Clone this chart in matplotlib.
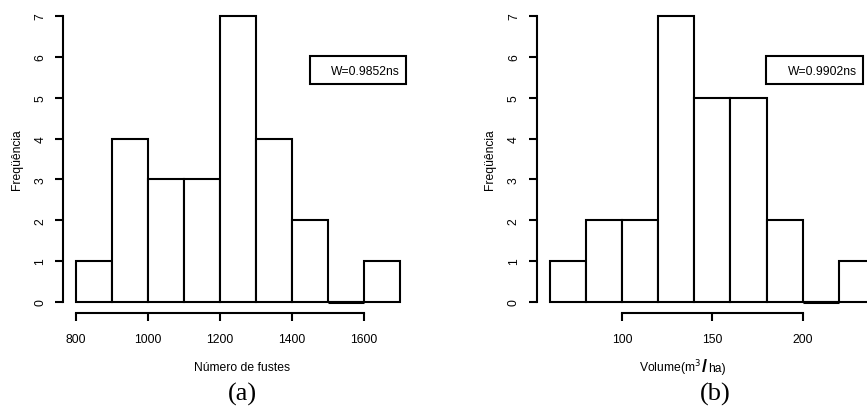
import numpy as np
import matplotlib.pyplot as plt
from matplotlib.patches import Rectangle

# histogram data
fustes_edges = [800, 900, 1000, 1100, 1200, 1300, 1400, 1500, 1600, 1700]
fustes_counts = [1, 4, 3, 3, 7, 4, 2, 0, 1]
fustes_ticks = [800, 1000, 1200, 1400, 1600]

volume_edges = [60, 80, 100, 120, 140, 160, 180, 200, 220, 240]
volume_counts = [1, 2, 2, 7, 5, 5, 2, 0, 1]
volume_ticks = [100, 150, 200]

y_ticks = [0, 1, 2, 3, 4, 5, 6, 7]
w_labels = ["W=0.9852ns", "W=0.9902ns"]
panel_labels = ["(a)", "(b)"]

W, H = 867, 414
FS = 8.7
plt.rcParams['font.family'] = ['Liberation Sans', 'DejaVu Sans']
fig = plt.figure(figsize=(W / 100, H / 100), dpi=100)


def fx(x):
    return x / W


def fy(y):
    return 1 - y / H


def r_hist(ax, edges, counts, ticks):
    edges = np.asarray(edges, dtype=float)
    counts = np.asarray(counts)
    widths = np.diff(edges)
    ax.bar(edges[:-1], counts, width=widths, align='edge',
           facecolor='white', edgecolor='black', linewidth=1.5)
    # empty bins: R still draws the flat outline
    empty = counts == 0
    ax.hlines(np.zeros(empty.sum()), edges[:-1][empty], edges[1:][empty],
              color='black', linewidth=2.2)
    span = edges[-1] - edges[0]
    ax.set_xlim(edges[0] - 0.04 * span, edges[-1] + 0.04 * span)
    ax.set_ylim(-0.04 * 7, 7 + 0.04 * 7)
    for s in ['top', 'right']:
        ax.spines[s].set_visible(False)
    for s in ['left', 'bottom']:
        ax.spines[s].set_linewidth(1.5)
    ax.spines['left'].set_bounds(0, 7)
    ax.spines['bottom'].set_bounds(ticks[0], ticks[-1])
    ax.set_xticks(ticks)
    ax.set_yticks(y_ticks)
    ax.set_yticklabels([str(v) for v in y_ticks], rotation=90, va='center')
    ax.tick_params(axis='both', length=6, width=1.5, labelsize=FS)
    ax.tick_params(axis='x', pad=8)
    ax.tick_params(axis='y', pad=6)
    ax.patch.set_visible(False)


# left panel
ax1 = fig.add_axes([fx(63), fy(314.4), 350 / W, 308.8 / H])
r_hist(ax1, fustes_edges, fustes_counts, fustes_ticks)

# right panel (runs past the right edge, as in the reference)
ax2 = fig.add_axes([fx(536.6), fy(314.4), 351.4 / W, 308.8 / H])
r_hist(ax2, volume_edges, volume_counts, volume_ticks)

# y labels
fig.text(fx(17), fy(160), "Freqüência", rotation=90, ha='center', va='center', fontsize=FS)
fig.text(fx(490), fy(160), "Freqüência", rotation=90, ha='center', va='center', fontsize=FS)

# x labels
fig.text(fx(242), fy(368), "Número de fustes", ha='center', va='center', fontsize=FS)
t1 = fig.text(fx(701), fy(368), "Volume(m$^3$", ha='right', va='center', fontsize=FS)
t2 = fig.text(fx(702), fy(368), "/", ha='left', va='center', fontsize=13, fontweight='bold')
fig.canvas.draw()
bb = t2.get_window_extent()
fig.text(fx(bb.x1 + 1), fy(369), "ha)", ha='left', va='center', fontsize=FS)

# panel labels
fig.text(fx(242), fy(394), panel_labels[0], ha='center', va='center', fontsize=19,
         family=['Liberation Serif', 'DejaVu Serif'])
fig.text(fx(715), fy(394), panel_labels[1], ha='center', va='center', fontsize=19,
         family=['Liberation Serif', 'DejaVu Serif'])

# Shapiro-Wilk boxes
for (x0, x1), lab in zip([(310, 406), (766, 863)], w_labels):
    fig.patches.append(Rectangle((fx(x0), fy(85)), (x1 - x0) / W, 28 / H,
                                 transform=fig.transFigure, fill=False,
                                 edgecolor='black', linewidth=1.5))
    fig.text(fx(x1 - 6), fy(72), lab, ha='right', va='center', fontsize=FS)

fig.savefig("out.png", dpi=100)
